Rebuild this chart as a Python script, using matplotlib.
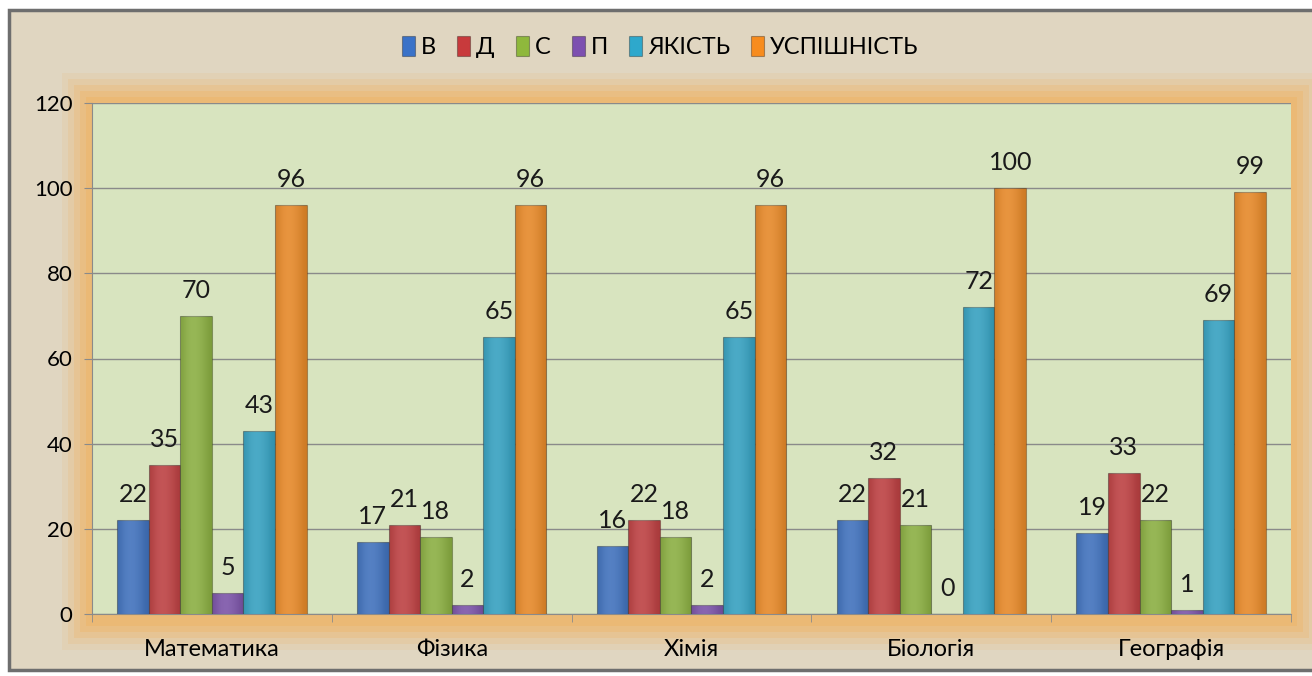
import matplotlib
matplotlib.use("Agg")
import matplotlib.pyplot as plt
from matplotlib.patches import Rectangle
import numpy as np

# data
subjects = ["Математика", "Фізика", "Хімія", "Біологія", "Географія"]
series_names = ["В", "Д", "С", "П", "ЯКІСТЬ", "УСПІШНІСТЬ"]
v_b = [22, 17, 16, 22, 19]
v_d = [35, 21, 22, 32, 33]
v_s = [70, 18, 18, 21, 22]
v_p = [5, 2, 2, 0, 1]
v_quality = [43, 65, 65, 72, 69]
v_success = [96, 96, 96, 100, 99]
all_values = [v_b, v_d, v_s, v_p, v_quality, v_success]
colors = ["#3a72c8", "#c83a3c", "#8fb83c", "#7d50b0", "#2ea8cc", "#f78c1e"]

plt.rcParams["font.family"] = ["Lato", "DejaVu Sans"]

W, H = 1312, 676
fig = plt.figure(figsize=(W / 100, H / 100), dpi=100)
fig.patch.set_facecolor("white")

# burlap-ish frame
fig.patches.append(Rectangle((9 / W, 1 - 670 / H), (1320 - 9) / W, (670 - 10) / H,
                             transform=fig.transFigure, facecolor="#e0d6c1",
                             edgecolor="#6e6e6e", linewidth=2.5, zorder=0))

ax = fig.add_axes([92 / W, 1 - 614 / H, (1291 - 92) / W, (614 - 103) / H])

# orange glow around the plot area
for pad, a in [(30, 0.12), (24, 0.18), (18, 0.25), (12, 0.33), (6, 0.4)]:
    fig.patches.append(Rectangle(((92 - pad) / W, 1 - (614 + pad + 6) / H),
                                 (1291 - 92 + 2 * pad) / W, (614 - 103 + 2 * pad + 6) / H,
                                 transform=fig.transFigure, facecolor="#f0b262",
                                 edgecolor="none", alpha=a, zorder=0.5))

ax.set_facecolor("#d8e4bf")
ax.set_zorder(1)

n = len(series_names)
x = np.arange(len(subjects))
bw = 0.79 / n
for i, (name, vals, c) in enumerate(zip(series_names, all_values, colors)):
    pos = x - 0.79 / 2 + bw * (i + 0.5)
    bars = ax.bar(pos, vals, width=bw, color=c, edgecolor=(0, 0, 0, 0.3),
                  linewidth=0.8, label=name, zorder=3)
    for b, v in zip(bars, vals):
        # soft horizontal shading
        x0, y0 = b.get_x(), b.get_y()
        grad = np.array([[-0.3, 0.2, 0.4, 0.4, 0.2, -0.1, -0.5]])
        im = ax.imshow(grad, cmap="gray", vmin=-1, vmax=1, alpha=0.22,
                       extent=[x0, x0 + b.get_width(), y0, y0 + b.get_height()],
                       aspect="auto", zorder=3.5, interpolation="bicubic")
        im.set_clip_path(b)
        ax.text(b.get_x() + b.get_width() / 2, v + 3.3, str(v), ha="center",
                va="bottom", fontsize=18, color="#1a1a1a", zorder=5)

ax.set_xlim(-0.5, len(subjects) - 0.5)
ax.set_ylim(0, 120)
ax.set_yticks(range(0, 121, 20))
ax.yaxis.grid(True, color="#8a8a8a", linewidth=1.0, zorder=1)
ax.set_axisbelow(True)
ax.set_xticks(x)
ax.set_xticklabels(subjects, fontsize=17)
ax.set_xticks(np.arange(-0.5, len(subjects)), minor=True)
ax.tick_params(axis="x", which="major", length=0, pad=18)
ax.tick_params(axis="x", which="minor", length=6, color="#8a8a8a")
ax.tick_params(axis="y", length=6, color="#8a8a8a", labelsize=16, pad=8)
for s in ["top", "right"]:
    ax.spines[s].set_visible(False)
ax.spines["left"].set_color("#8a8a8a")
ax.spines["bottom"].set_color("#8a8a8a")

handles, labels = ax.get_legend_handles_labels()
fig.legend(handles, labels, loc="center", bbox_to_anchor=(0.503, 1 - 47 / H),
           ncol=6, frameon=False, fontsize=17, handlelength=0.55, handleheight=0.9,
           handletextpad=0.25, columnspacing=0.9)

fig.savefig("out.png", dpi=100, facecolor=fig.get_facecolor())
